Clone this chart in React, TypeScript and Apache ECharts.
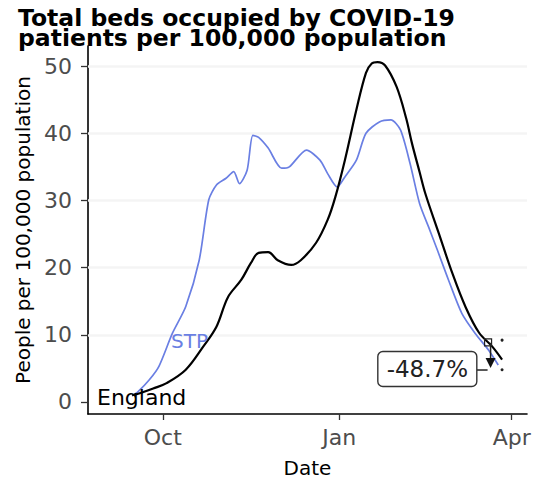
import React, { useEffect, useRef } from 'react';
import * as echarts from 'echarts';

const englandDates = ['2020-09-15','2020-09-19','2020-09-26','2020-10-03','2020-10-13','2020-10-22','2020-10-29','2020-11-04','2020-11-11','2020-11-16','2020-11-20','2020-11-25','2020-11-30','2020-12-07','2020-12-12','2020-12-20','2020-12-26','2020-12-30','2021-01-04','2021-01-10','2021-01-15','2021-01-18','2021-01-21','2021-01-25','2021-01-31','2021-02-05','2021-02-08','2021-02-12','2021-02-15','2021-02-22','2021-03-01','2021-03-08','2021-03-15','2021-03-22','2021-03-27'];
const englandValues = [1.0,1.3,2.0,2.8,4.8,8.2,11.2,15.6,18.2,20.7,22.2,22.3,21.1,20.4,21.1,23.7,27.1,30.5,36,43.5,49,50.4,50.6,50.1,46.9,42.2,38.5,34.2,31,25.1,19.2,14.1,10.3,8.2,6.3];

const stpDates = ['2020-09-15','2020-09-18','2020-09-24','2020-09-29','2020-10-06','2020-10-13','2020-10-20','2020-10-25','2020-10-29','2020-11-03','2020-11-07','2020-11-10','2020-11-14','2020-11-17','2020-11-20','2020-11-25','2020-12-02','2020-12-06','2020-12-15','2020-12-22','2020-12-26','2020-12-31','2021-01-04','2021-01-10','2021-01-15','2021-01-22','2021-01-28','2021-02-02','2021-02-07','2021-02-12','2021-02-17','2021-02-21','2021-02-27','2021-03-06','2021-03-13','2021-03-20','2021-03-25'];
const stpValues = [0.9,1.5,3.3,5.3,10.2,14.2,21.1,30.1,32.3,33.3,34.3,32.5,34.5,39.7,39.4,37.8,34.8,35.0,37.5,36.0,34.0,32.0,33.5,36.0,40.0,41.7,42.0,40.5,35.5,29.5,25.8,22.8,18.2,13.2,10.2,7.7,5.5];

const yTickValues = [0, 10, 20, 30, 40, 50];
const xTickDates = ['2020-10-01', '2021-01-01', '2021-04-01'];
const xTickLabels = ['Oct', 'Jan', 'Apr'];

const titleLines = ['Total beds occupied by COVID-19', 'patients per 100,000 population'];
const changeLabel = '-48.7%';
const englandLabelAt: [string, number] = ['2020-09-20', 0.6];
const stpLabelAt: [string, number] = ['2020-10-15', 9.1];
const changeBoxAt: [string, number] = ['2021-02-16', 4.9];
const arrowFrom: [string, number] = ['2021-03-21', 8.8];
const arrowTo: [string, number] = ['2021-03-21', 5.05];
const dotPoints: [string, number][] = [['2021-03-27', 9.2], ['2021-03-27', 4.8]];

const DAY = 86400000;
const ts = (d: string) => new Date(d + 'T00:00:00Z').getTime();
const FONT = 'DejaVu Sans';
const BLUE = '#6a7fe3';

export default function App() {
  const ref = useRef<HTMLDivElement>(null);
  useEffect(() => {
    const chart = echarts.init(ref.current!, null, { renderer: 'svg' });
    const day = (d: string) => ts(d) / DAY;
    const xTicks = xTickDates.map(day);
    chart.setOption({
      animation: false,
      backgroundColor: '#ffffff',
      title: titleLines.map((t, i) => ({
        text: t,
        left: 18,
        top: 8 + i * 20,
        padding: 0,
        textStyle: { fontFamily: FONT, fontSize: 23.5, fontWeight: 'bold', lineHeight: 20, color: '#000' },
      })),
      grid: { left: 88, top: 46, right: 6, bottom: 65, outerBoundsMode: 'none', containLabel: false },
      xAxis: {
        type: 'value',
        min: day('2020-08-23'),
        max: day('2021-04-09'),
        name: 'Date',
        nameLocation: 'middle',
        nameGap: 44,
        nameTextStyle: { fontFamily: FONT, fontSize: 20, color: '#000' },
        axisLine: { show: true, onZero: false, lineStyle: { color: '#000', width: 1.6 } },
        axisTick: { show: true, length: 6, lineStyle: { color: '#333', width: 1.3 }, customValues: xTicks },
        axisLabel: {
          customValues: xTicks,
          formatter: (v: number) => {
            const i = xTicks.indexOf(v);
            return i >= 0 ? xTickLabels[i] : '';
          },
          fontFamily: FONT, fontSize: 22, color: '#4d4d4d', margin: 12,
        },
        splitLine: { show: false },
      },
      yAxis: {
        type: 'value',
        min: -1.8,
        max: 53,
        name: 'People per 100,000 population',
        nameLocation: 'middle',
        nameRotate: 90,
        nameGap: 52,
        nameTextStyle: { fontFamily: FONT, fontSize: 20, color: '#000' },
        axisLine: { show: true, onZero: false, lineStyle: { color: '#000', width: 1.6 } },
        axisTick: { show: true, length: 7, lineStyle: { color: '#333', width: 1.3 }, customValues: yTickValues },
        axisLabel: { customValues: yTickValues, fontFamily: FONT, fontSize: 22, color: '#4d4d4d', margin: 16 },
        splitLine: { show: false },
      },
      series: [
        {
          type: 'line',
          data: [],
          z: 1,
          silent: true,
          markLine: {
            z: 1,
            silent: true,
            symbol: 'none',
            label: { show: false },
            lineStyle: { color: '#f4f4f4', width: 2.5, type: 'solid' },
            data: yTickValues.slice(1).map((v) => ({ yAxis: v })),
          },
        },
        {
          name: 'STP',
          type: 'line',
          data: stpDates.map((d, i) => [day(d), stpValues[i]]),
          showSymbol: false,
          smooth: 0.25,
          lineStyle: { color: BLUE, width: 1.7 },
          z: 3,
        },
        {
          name: 'England',
          type: 'line',
          data: englandDates.map((d, i) => [day(d), englandValues[i]]),
          showSymbol: false,
          smooth: 0.35,
          lineStyle: { color: '#000', width: 2.2 },
          z: 4,
        },
      ],
    });

    const px = (a: [string, number]) => chart.convertToPixel({ gridIndex: 0 }, [day(a[0]), a[1]]) as number[];
    const eng = px(englandLabelAt);
    const stp = px(stpLabelAt);
    const box = px(changeBoxAt);
    const af = px(arrowFrom);
    const at = px(arrowTo);
    const dots = dotPoints.map(px);
    const bw = 99, bh = 35;
    chart.setOption({
      graphic: [
        { type: 'text', x: eng[0], y: eng[1], z: 10, style: { text: 'England', fontFamily: FONT, fontSize: 22, fill: '#000', align: 'center', verticalAlign: 'middle' } },
        { type: 'text', x: stp[0], y: stp[1], z: 10, style: { text: 'STP', fontFamily: FONT, fontSize: 20, fill: BLUE, align: 'center', verticalAlign: 'middle' } },
        { type: 'line', z: 10, shape: { x1: box[0] + bw / 2, y1: box[1] + 1, x2: at[0] - 3, y2: box[1] + 1 }, style: { stroke: '#222', lineWidth: 1.5 } },
        { type: 'rect', z: 11, shape: { x: box[0] - bw / 2, y: box[1] - bh / 2, width: bw, height: bh, r: 5 }, style: { fill: '#fff', stroke: '#333', lineWidth: 1.4 } },
        { type: 'text', x: box[0], y: box[1], z: 12, style: { text: changeLabel, fontFamily: FONT, fontSize: 23, fill: '#222', align: 'center', verticalAlign: 'middle' } },
        { type: 'line', z: 10, shape: { x1: af[0], y1: af[1], x2: at[0], y2: at[1] - 8 }, style: { stroke: '#222', lineWidth: 1.5 } },
        { type: 'polygon', z: 10, shape: { points: [[at[0] - 5, at[1] - 10], [at[0] + 5, at[1] - 10], [at[0], at[1]]] }, style: { fill: '#111' } },
        { type: 'rect', z: 10, shape: { x: af[0] - 6, y: af[1] - 4, width: 7, height: 7 }, style: { fill: 'none', stroke: '#222', lineWidth: 1.2 } },
        ...dots.map((d) => ({ type: 'circle', z: 10, shape: { cx: d[0], cy: d[1], r: 1.5 }, style: { fill: '#222' } })),
      ],
    });
    return () => chart.dispose();
  }, []);
  return <div ref={ref} style={{ position: 'absolute', left: 0, top: 0, width: 533, height: 479 }} />;
}
